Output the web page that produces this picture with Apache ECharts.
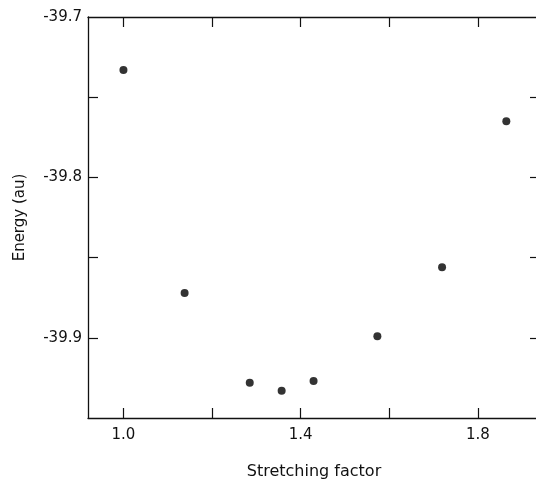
<!DOCTYPE html>
<html>
<head>
<meta charset="utf-8">
<script src="https://cdn.jsdelivr.net/npm/echarts@6/dist/echarts.min.js"></script>
<style>
html, body { margin: 0; padding: 0; background: #fff; }
#energy_chart { width: 536px; height: 480px; }
</style>
</head>
<body>
<div id="energy_chart"></div>
<script>
// stretching factor vs energy (au)
const stretch = [1.0, 1.138, 1.285, 1.357, 1.429, 1.573, 1.719, 1.864];
const energy = [-39.733, -39.872, -39.928, -39.933, -39.927, -39.899, -39.856, -39.765];
const xTicks = [1.0, 1.2, 1.4, 1.6, 1.8];
const xLabels = [1.0, 1.4, 1.8];
const yTicks = [-39.9, -39.85, -39.8, -39.75];
const yLabels = [-39.9, -39.8, -39.7];

let chart = echarts.init(document.getElementById("energy_chart"));
const font = "DejaVu Sans";
const line = { show: true, lineStyle: { color: "#111", width: 1.3 } };

let points = [];
for (let i = 0; i < stretch.length; i++) {
    points.push([stretch[i], energy[i]]);
}

chart.setOption({
    animation: false,
    // plot runs past the right edge of the picture, as in the scan
    grid: { left: 88, top: 17, right: -4, bottom: 62, outerBoundsMode: "none", containLabel: false },
    xAxis: [
        {
            type: "value",
            min: 0.92,
            max: 1.94,
            position: "bottom",
            axisLine: line,
            axisTick: { show: true, inside: true, length: 10, customValues: xTicks, lineStyle: { color: "#111", width: 1.2 } },
            axisLabel: {
                customValues: xLabels,
                formatter: v => v.toFixed(1),
                color: "#111",
                fontFamily: font,
                fontSize: 15,
                margin: 10
            },
            splitLine: { show: false },
            name: "Stretching factor",
            nameLocation: "middle",
            nameGap: 46,
            nameTextStyle: { color: "#111", fontFamily: font, fontSize: 16 }
        },
        {
            type: "value",
            min: 0.92,
            max: 1.94,
            position: "top",
            axisLine: line,
            axisTick: { show: true, inside: true, length: 10, customValues: xTicks, lineStyle: { color: "#111", width: 1.2 } },
            axisLabel: { show: false },
            splitLine: { show: false }
        }
    ],
    yAxis: [
        {
            type: "value",
            min: -39.95,
            max: -39.7,
            position: "left",
            axisLine: line,
            axisTick: { show: true, inside: true, length: 10, customValues: yTicks, lineStyle: { color: "#111", width: 1.2 } },
            axisLabel: {
                customValues: yLabels,
                formatter: v => v.toFixed(1),
                color: "#111",
                fontFamily: font,
                fontSize: 15,
                margin: 6
            },
            splitLine: { show: false },
            name: "Energy (au)",
            nameLocation: "middle",
            nameGap: 60,
            nameTextStyle: { color: "#111", fontFamily: font, fontSize: 15 }
        },
        {
            type: "value",
            min: -39.95,
            max: -39.7,
            position: "right",
            axisLine: line,
            axisTick: { show: true, inside: true, length: 10, customValues: yTicks, lineStyle: { color: "#111", width: 1.2 } },
            axisLabel: { show: false },
            splitLine: { show: false }
        }
    ],
    series: [
        {
            type: "scatter",
            data: points,
            symbol: "circle",
            symbolSize: 8,
            itemStyle: { color: "#000" }
        }
    ]
});
</script>
</body>
</html>
